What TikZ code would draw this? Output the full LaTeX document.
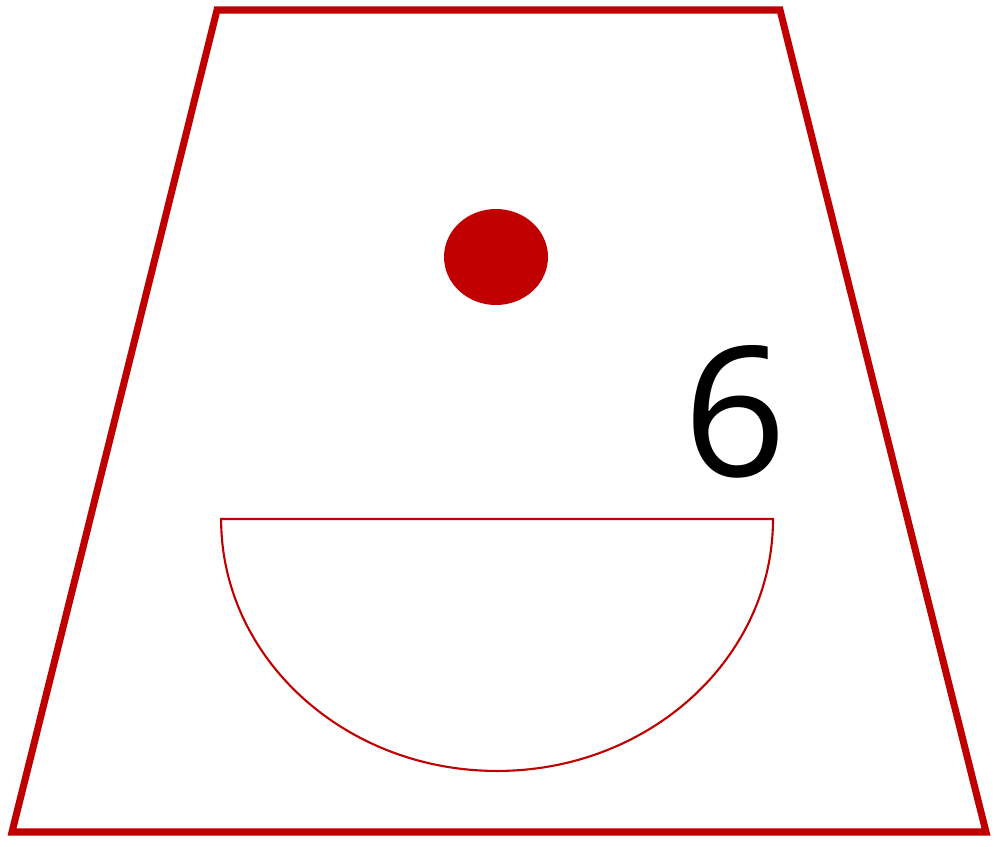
\documentclass[tikz,border=0pt]{standalone}
\usepackage{fontspec}
\setmainfont{Open Sans}
\definecolor{darkred}{HTML}{C00000}

\begin{document}
\begin{tikzpicture}[x = 0.02cm, y = 0.02cm]
\useasboundingbox (0, 0) rectangle (997, 846);
\draw[darkred, line width = 4pt, line join = miter] (217, 836) -- (780, 836) -- (986, 14) -- (12, 14) -- cycle;
\fill[darkred] (496, 589) ellipse[x radius = 1.04cm, y radius = 0.96cm];
\draw[darkred, line width = 1.2pt] (773, 327) arc[start angle = 0, end angle = -180, x radius = 5.52cm, y radius = 5.04cm] -- cycle;
\node (six) at (735, 434) {\fontsize{103}{103}\selectfont 6};
\end{tikzpicture}
\end{document}
